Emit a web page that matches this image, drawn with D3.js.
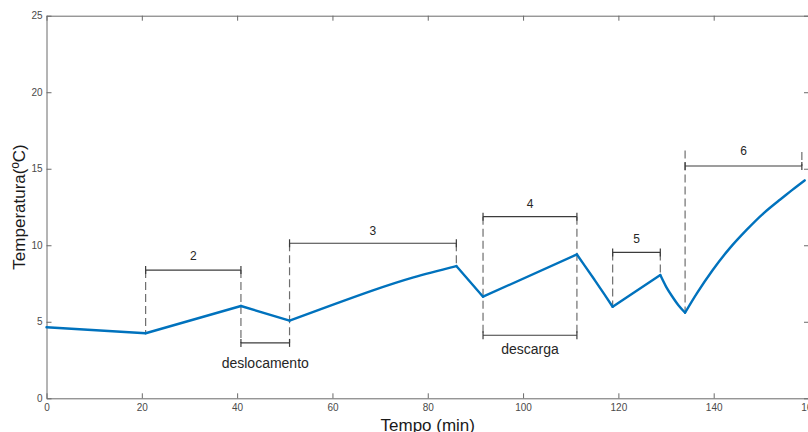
<!DOCTYPE html>
<html>
<head>
<meta charset="utf-8">
<script src="https://cdn.jsdelivr.net/npm/d3@7"></script>
<style>
  body { margin: 0; background: #fff; }
  text { font-family: "Liberation Sans", Arial, sans-serif; }
</style>
</head>
<body>
<svg width="808" height="432"></svg>
<script>
// curva medida (tempo em min, temperatura em ºC)
var tempo =       [0, 20.8, 40.8, 51, 60, 68.5, 77, 86, 91.6, 111.3, 113, 115, 117, 118.8, 128.8, 130, 131.2, 132.6, 134, 136.5, 139.8, 143.3, 146.9, 150.4, 153.9, 156.5, 159.1];
var temperatura = [4.64, 4.25, 6.03, 5.07, 6.1, 7.05, 7.9, 8.64, 6.64, 9.4, 8.64, 7.74, 6.82, 5.98, 8.05, 7.3, 6.7, 6.08, 5.59, 6.87, 8.38, 9.78, 11.0, 12.07, 12.97, 13.62, 14.24];
// pontos de quebra (mudança de fase)
var quebras = [0, 20.8, 40.8, 51, 86, 91.6, 111.3, 118.8, 128.8, 134, 159.1];

var xTicks = [0, 20, 40, 60, 80, 100, 120, 140, 160];
var yTicks = [0, 5, 10, 15, 20, 25];

// intervalos anotados
var rotulos =     ["2", "3", "4", "5", "6", "deslocamento", "descarga"];
var inicio =      [20.8, 51, 91.6, 118.8, 134, 40.8, 91.6];
var fim =         [40.8, 86, 111.3, 128.8, 158.5, 51, 111.3];
var nivel =       [8.38, 10.13, 11.87, 9.53, 15.18, 3.62, 4.12];
var nivelRotulo = [9.03, 10.67, 12.41, 10.14, 15.89, 1.98, 2.9];

// linhas tracejadas verticais
var guiaT =    [20.8, 40.8, 51, 86, 91.6, 111.3, 118.8, 128.8, 134, 158.5];
var guiaTopo = [8.38, 8.38, 10.13, 10.13, 11.87, 11.87, 9.53, 9.53, 16.2, 16.1];
var guiaBase = [4.25, 3.62, 3.62, 8.64, 4.12, 4.12, 5.98, 8.05, 5.59, 15.18];

var svg = d3.select("svg");

var x = d3.scaleLinear().domain([0, 160]).range([46.5, 809]);
var y = d3.scaleLinear().domain([0, 25]).range([398.3, 15.7]);

var axisColor = "#6a6a6a";
var labelColor = "#4a4a4a";

function styleAxis(g) {
  g.selectAll("path, line").attr("stroke", axisColor).attr("stroke-width", 1);
  g.selectAll("text").attr("fill", labelColor).style("font-size", "10px");
}

svg.append("g")
  .attr("transform", "translate(0," + y(0) + ")")
  .call(d3.axisBottom(x).tickValues(xTicks).tickSizeInner(-5).tickSizeOuter(0).tickPadding(6))
  .call(styleAxis);

svg.append("g")
  .attr("transform", "translate(0," + y(25) + ")")
  .call(d3.axisTop(x).tickValues(xTicks).tickSizeInner(-5).tickSizeOuter(0).tickFormat(""))
  .call(styleAxis);

svg.append("g")
  .attr("transform", "translate(" + x(0) + ",0)")
  .call(d3.axisLeft(y).tickValues(yTicks).tickSizeInner(-5).tickSizeOuter(0).tickPadding(4))
  .call(styleAxis);

svg.append("g")
  .attr("transform", "translate(" + x(160) + ",0)")
  .call(d3.axisRight(y).tickValues(yTicks).tickSizeInner(-5).tickSizeOuter(0).tickFormat(""))
  .call(styleAxis);

// títulos dos eixos
svg.append("text")
  .attr("x", (x(0) + x(160)) / 2)
  .attr("y", 431)
  .attr("text-anchor", "middle")
  .style("font-size", "17px")
  .attr("fill", "#1a1a1a")
  .text("Tempo (min)");

svg.append("text")
  .attr("transform", "translate(25," + (y(0) + y(25)) / 2 + ") rotate(-90)")
  .attr("text-anchor", "middle")
  .style("font-size", "17px")
  .attr("fill", "#1a1a1a")
  .text("Temperatura(ºC)");

// linhas tracejadas
guiaT.forEach(function(t, i) {
  svg.append("line")
    .attr("x1", x(t)).attr("x2", x(t))
    .attr("y1", y(guiaTopo[i])).attr("y2", y(guiaBase[i]))
    .attr("stroke", "#6e6e6e")
    .attr("stroke-width", 1.2)
    .attr("stroke-dasharray", "8,4");
});

// colchetes dos intervalos
rotulos.forEach(function(r, i) {
  var g = svg.append("g").attr("stroke", "#3c3c3c").attr("stroke-width", 1.2);
  var yy = y(nivel[i]);
  g.append("line").attr("x1", x(inicio[i])).attr("x2", x(fim[i])).attr("y1", yy).attr("y2", yy);
  g.append("line").attr("x1", x(inicio[i])).attr("x2", x(inicio[i])).attr("y1", yy - 4).attr("y2", yy + 4);
  g.append("line").attr("x1", x(fim[i])).attr("x2", x(fim[i])).attr("y1", yy - 4).attr("y2", yy + 4);

  svg.append("text")
    .attr("x", (x(inicio[i]) + x(fim[i])) / 2)
    .attr("y", y(nivelRotulo[i]))
    .attr("text-anchor", "middle")
    .style("font-size", r.length > 1 ? "14px" : "12px")
    .attr("fill", "#262626")
    .text(r);
});

// curva de temperatura, um trecho por fase
var pontos = tempo.map(function(t, i) { return [t, temperatura[i]]; });
var line = d3.line()
  .x(function(d) { return x(d[0]); })
  .y(function(d) { return y(d[1]); })
  .curve(d3.curveNatural);

for (var k = 0; k < quebras.length - 1; k++) {
  var trecho = pontos.filter(function(d) { return d[0] >= quebras[k] && d[0] <= quebras[k + 1]; });
  svg.append("path")
    .attr("d", line(trecho))
    .attr("fill", "none")
    .attr("stroke", "#0072BD")
    .attr("stroke-width", 2.4)
    .attr("stroke-linecap", "round")
    .attr("stroke-linejoin", "round");
}
</script>
</body>
</html>
